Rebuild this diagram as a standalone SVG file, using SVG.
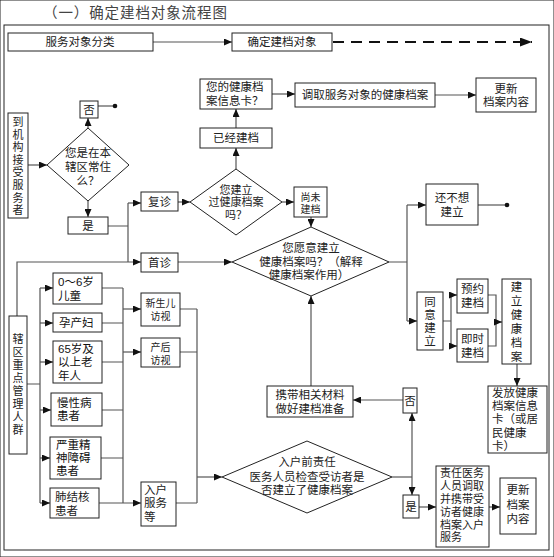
<svg xmlns="http://www.w3.org/2000/svg" width="554" height="557" viewBox="0 0 554 557">
<defs>
<marker id="ah" markerUnits="userSpaceOnUse" markerWidth="8" markerHeight="7" refX="8" refY="3.5" orient="auto">
<path d="M0,0 L8,3.5 L0,7 z" fill="#111"/>
</marker>
<marker id="ahb" markerUnits="userSpaceOnUse" markerWidth="12" markerHeight="9" refX="12" refY="4.5" orient="auto">
<path d="M0,0 L12,4.5 L0,9 z" fill="#111"/>
</marker>
<style>
text{font-family:"Liberation Sans","Noto Sans CJK SC",sans-serif;font-size:11.5px;fill:#222;text-anchor:middle;dominant-baseline:central}
.s{font-size:10px}
.v{font-size:11px}
.l{text-anchor:start}
.k{fill:#111}
.title{font-size:14.5px;letter-spacing:0.9px;fill:#444;text-anchor:start}
rect,polygon{fill:#fff;stroke:#222;stroke-width:1}
#connectors path{fill:none;stroke:#555;stroke-width:1.2}
#connectors path.a{marker-end:url(#ah)}
#connectors circle{fill:#111}
</style>
</defs>
<rect width="554" height="557" fill="#fff" stroke="none"/>
<text class="title" x="43" y="13">（一）确定建档对象流程图</text>
<rect x="4" y="25" width="545" height="525" fill="none" stroke="#8a8a8a" stroke-width="2"/>

<g id="connectors">
<path class="a" d="M153,42 H232"/>
<path d="M333,42 H532" style="stroke:#111;stroke-width:2.2;stroke-dasharray:11,7;marker-end:url(#ahb)"/>
<path class="a" d="M28,165 H47"/>
<path class="a" d="M88,128 V118"/>
<path d="M98,106 H115"/><circle cx="115" cy="106" r="2.3"/>
<path class="a" d="M88,201 V217"/>
<path d="M108,226 H128 M128,203 V262"/>
<path class="a" d="M128,203 H141"/>
<path class="a" d="M17,316 V262 H141"/>
<path class="a" d="M178,202 H190"/>
<path class="a" d="M236,169 V148"/>
<path class="a" d="M236,128 V109"/>
<path class="a" d="M272,94 H295"/>
<path class="a" d="M435,95 H476"/>
<path class="a" d="M282,202 H294"/>
<path class="a" d="M311,217 V227"/>
<path class="a" d="M178,262 H232"/>
<path d="M389,262 H407 M407,205 V321"/>
<path class="a" d="M407,205 H426"/>
<path class="a" d="M407,321 H417"/>
<path d="M478,205 H507"/><circle cx="507" cy="205" r="2.3"/>
<path d="M443,321 H451 M451,295 V346"/>
<path class="a" d="M451,295 H457"/>
<path class="a" d="M451,346 H457"/>
<path d="M488,295 H496 V346 H488"/>
<path class="a" d="M496,322 H502"/>
<path class="a" d="M517,364 V386"/>
<path class="a" d="M311,386 V296"/>
<path class="a" d="M403,400 H353"/>
<path d="M392,477 H412"/>
<path class="a" d="M412,477 V413"/>
<path class="a" d="M412,477 V495"/>
<path class="a" d="M419,507 H436"/>
<path class="a" d="M489,507 H500"/>
<path d="M27,384 H40 M40,288 V503"/>
<path class="a" d="M40,288 H53"/>
<path class="a" d="M40,323 H53"/>
<path class="a" d="M40,362 H53"/>
<path class="a" d="M40,410 H51"/>
<path class="a" d="M40,458 H50"/>
<path class="a" d="M40,503 H50"/>
<path d="M102,288 H123 M102,323 H123 M102,362 H123 M102,410 H123 M101,458 H123 M123,288 V503"/>
<path class="a" d="M99,503 H141"/>
<path class="a" d="M123,309 H141"/>
<path class="a" d="M123,352 H141"/>
<path d="M180,309 H197 M180,352 H197 M176,503 H197 M197,309 V503"/>
<path class="a" d="M197,477 H222"/>
</g>

<g id="n_classify"><rect x="8" y="33" width="145" height="18"/><text x="80" y="42">服务对象分类</text></g>
<g id="n_target"><rect x="232" y="33" width="100" height="18"/><text x="282" y="42">确定建档对象</text></g>
<g id="n_arrive"><rect x="8" y="113" width="20" height="105"/>
<text class="v"><tspan x="18" y="122">到</tspan><tspan x="18" y="134.6">机</tspan><tspan x="18" y="147.2">构</tspan><tspan x="18" y="159.8">接</tspan><tspan x="18" y="172.4">受</tspan><tspan x="18" y="185">服</tspan><tspan x="18" y="197.6">务</tspan><tspan x="18" y="210.2">者</tspan></text></g>
<g id="n_no1"><rect x="80" y="101" width="18" height="17"/><text x="89" y="109.5">否</text></g>
<g id="n_resident"><polygon points="88,128 129,165 88,201 47,165"/><text><tspan x="88" y="153">您是在本</tspan><tspan x="88" y="167">辖区常住</tspan><tspan x="88" y="181">么？</tspan></text></g>
<g id="n_yes1"><rect x="68" y="217" width="40" height="17"/><text x="88" y="225.5">是</text></g>
<g id="n_revisit"><rect x="141" y="192" width="37" height="19"/><text x="159.5" y="201.5">复诊</text></g>
<g id="n_first"><rect x="141" y="253" width="37" height="19"/><text x="159.5" y="262.5">首诊</text></g>
<g id="n_everbuilt"><polygon points="236,169 282,202 236,235 190,202"/><text class="v"><tspan x="236" y="189.5">您建立</tspan><tspan x="236" y="202">过健康档案</tspan><tspan x="236" y="214.5">吗？</tspan></text></g>
<g id="n_built"><rect x="200" y="128" width="72" height="20"/><text x="236" y="138">已经建档</text></g>
<g id="n_card"><rect x="200" y="79" width="72" height="30"/><text class="l"><tspan x="206" y="87">您的健康档</tspan><tspan x="206" y="101">案信息卡？</tspan></text></g>
<g id="n_fetch"><rect x="295" y="83" width="140" height="24"/><text x="365" y="95">调取服务对象的健康档案</text></g>
<g id="n_update1"><rect x="476" y="78" width="60" height="34"/><text><tspan x="506" y="89">更新</tspan><tspan x="506" y="102">档案内容</tspan></text></g>
<g id="n_notbuilt"><rect x="294" y="187" width="33" height="30"/><text class="s"><tspan x="310.5" y="196.5">尚未</tspan><tspan x="310.5" y="209">建档</tspan></text></g>
<g id="n_willing"><polygon points="311,227 389,262 311,296 232,262"/><text><tspan x="311" y="248">您愿意建立</tspan><tspan x="311" y="262">健康档案吗？（解释</tspan><tspan x="309" y="275">健康档案作用）</tspan></text></g>
<g id="n_notyet"><rect x="426" y="184" width="52" height="41"/><text><tspan x="452" y="198">还不想</tspan><tspan x="452" y="212">建立</tspan></text></g>
<g id="n_agree"><rect x="417" y="292" width="26" height="58"/><text><tspan x="430" y="302">同</tspan><tspan x="430" y="315">意</tspan><tspan x="430" y="328">建</tspan><tspan x="430" y="341">立</tspan></text></g>
<g id="n_appoint"><rect x="457" y="279" width="31" height="34"/><text><tspan x="472.5" y="289">预约</tspan><tspan x="472.5" y="303">建档</tspan></text></g>
<g id="n_instant"><rect x="457" y="329" width="31" height="33"/><text><tspan x="472.5" y="339">即时</tspan><tspan x="472.5" y="353">建档</tspan></text></g>
<g id="n_create"><rect x="502" y="279" width="29" height="85"/><text><tspan x="516.5" y="287">建</tspan><tspan x="516.5" y="301">立</tspan><tspan x="516.5" y="315">健</tspan><tspan x="516.5" y="329">康</tspan><tspan x="516.5" y="343">档</tspan><tspan x="516.5" y="357">案</tspan></text></g>
<g id="n_issue"><rect x="488" y="386" width="59" height="67"/><text class="l"><tspan x="492" y="393">发放健康</tspan><tspan x="492" y="406">档案信息</tspan><tspan x="492" y="419">卡（或居</tspan><tspan x="492" y="432.5">民健康</tspan><tspan x="492" y="445.5">卡）</tspan></text></g>
<g id="n_carry"><rect x="267" y="386" width="86" height="31"/><text><tspan x="310" y="395">携带相关材料</tspan><tspan x="310" y="408.5">做好建档准备</tspan></text></g>
<g id="n_no2"><rect x="403" y="388" width="14" height="25"/><text x="410" y="400.5">否</text></g>
<g id="n_check"><polygon points="307,441 392,477 307,513 222,477"/><text><tspan x="307" y="462">入户前责任</tspan><tspan x="307" y="477">医务人员检查受访者是</tspan><tspan x="307" y="490">否建立了健康档案</tspan></text></g>
<g id="n_yes2"><rect x="403" y="495" width="16" height="23"/><text x="411" y="506.5">是</text></g>
<g id="n_staff"><rect x="436" y="466" width="53" height="81"/><text class="l v"><tspan x="440" y="473">责任医务</tspan><tspan x="440" y="486">人员调取</tspan><tspan x="440" y="499">并携带受</tspan><tspan x="440" y="512">访者健康</tspan><tspan x="440" y="524.5">档案入户</tspan><tspan x="440" y="537">服务</tspan></text></g>
<g id="n_update2"><rect x="500" y="478" width="36" height="56"/><text><tspan x="518" y="490">更新</tspan><tspan x="518" y="505">档案</tspan><tspan x="518" y="519">内容</tspan></text></g>
<g id="n_key"><rect x="9" y="316" width="18" height="138"/><text class="v"><tspan x="18" y="339">辖</tspan><tspan x="18" y="352">区</tspan><tspan x="18" y="365">重</tspan><tspan x="18" y="378">点</tspan><tspan x="18" y="390.5">管</tspan><tspan x="18" y="403.5">理</tspan><tspan x="18" y="416.5">人</tspan><tspan x="18" y="429.5">群</tspan></text></g>
<g id="n_child"><rect x="53" y="273" width="49" height="31"/><text class="l k"><tspan x="58" y="282">0～6岁</tspan><tspan x="58" y="296">儿童</tspan></text></g>
<g id="n_preg"><rect x="53" y="313" width="49" height="19"/><text class="l k" x="59" y="322.5">孕产妇</text></g>
<g id="n_elder"><rect x="53" y="341" width="49" height="42"/><text class="l k"><tspan x="58" y="349">65岁及</tspan><tspan x="58" y="362">以上老</tspan><tspan x="58" y="376">年人</tspan></text></g>
<g id="n_chronic"><rect x="51" y="393" width="51" height="33"/><text class="l k"><tspan x="57" y="403">慢性病</tspan><tspan x="57" y="416">患者</tspan></text></g>
<g id="n_mental"><rect x="50" y="437" width="51" height="42"/><text class="l k"><tspan x="56" y="445">严重精</tspan><tspan x="56" y="458">神障碍</tspan><tspan x="56" y="471">患者</tspan></text></g>
<g id="n_tb"><rect x="50" y="488" width="49" height="30"/><text class="l"><tspan x="55" y="497">肺结核</tspan><tspan x="55" y="511">患者</tspan></text></g>
<g id="n_newborn"><rect x="141" y="293" width="39" height="33"/><text class="s"><tspan x="160.5" y="303">新生儿</tspan><tspan x="160.5" y="316">访视</tspan></text></g>
<g id="n_postnatal"><rect x="141" y="338" width="39" height="29"/><text class="s"><tspan x="160.5" y="346.5">产后</tspan><tspan x="160.5" y="359.5">访视</tspan></text></g>
<g id="n_home"><rect x="141" y="482" width="35" height="44"/><text class="l"><tspan x="144" y="490">入户</tspan><tspan x="144" y="503">服务</tspan><tspan x="144" y="517">等</tspan></text></g>
</svg>
